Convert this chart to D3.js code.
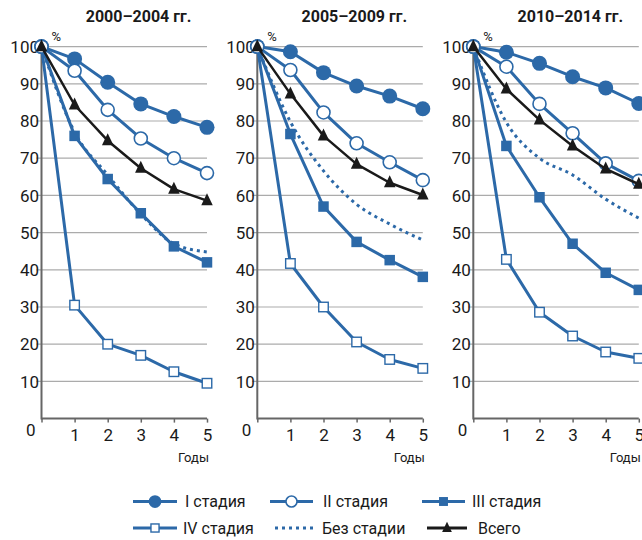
<!DOCTYPE html>
<html>
<head>
<meta charset="utf-8">
<script src="https://cdn.jsdelivr.net/npm/d3@7"></script>
<style>
  html, body { margin: 0; padding: 0; background: #fff; }
  svg { display: block; font-family: Roboto, "Noto Sans", sans-serif; }
</style>
</head>
<body>
<svg id="chart" width="642" height="540"></svg>
<script>
// Survival by stage, three diagnosis periods (years 0..5, %)
const years = [0, 1, 2, 3, 4, 5];
const periods = ["2000–2004 гг.", "2005–2009 гг.", "2010–2014 гг."];
const yTicks = [0, 10, 20, 30, 40, 50, 60, 70, 80, 90, 100];
const xTicks = [1, 2, 3, 4, 5];

const stage1 = [
  [100, 96.7, 90.4, 84.6, 81.2, 78.3],
  [100, 98.6, 93.0, 89.4, 86.7, 83.3],
  [100, 98.5, 95.5, 91.9, 88.9, 84.7]
];
const stage2 = [
  [100, 93.5, 83.0, 75.3, 70.0, 66.0],
  [100, 93.7, 82.3, 74.0, 68.9, 64.1],
  [100, 94.6, 84.6, 76.7, 68.6, 63.9]
];
const stage3 = [
  [100, 76.0, 64.4, 55.2, 46.3, 42.0],
  [100, 76.5, 57.0, 47.5, 42.6, 38.1],
  [100, 73.3, 59.5, 47.0, 39.2, 34.6]
];
const stage4 = [
  [100, 30.5, 20.0, 17.0, 12.6, 9.5],
  [100, 41.7, 30.0, 20.6, 15.9, 13.5],
  [100, 42.8, 28.6, 22.2, 17.9, 16.2]
];
const noStage = [
  [100, 77.0, 65.5, 55.0, 47.0, 44.8],
  [100, 79.8, 66.6, 57.6, 52.3, 48.0],
  [100, 79.6, 70.0, 65.5, 59.0, 53.9]
];
const total = [
  [100, 84.3, 74.7, 67.3, 61.7, 58.6],
  [100, 87.3, 76.0, 68.4, 63.4, 60.1],
  [100, 88.6, 80.3, 73.3, 67.1, 63.0]
];

const seriesNames = ["I стадия", "II стадия", "III стадия", "IV стадия", "Без стадии", "Всего"];

const BLUE = "#2c69a8";
const BLACK = "#1a1a1a";

const svg = d3.select("#chart");

// Series styles; drawing order keeps the black total line on top
const series = [
  { name: seriesNames[3], data: stage4, color: BLUE, width: 3, marker: "sqOpen" },
  { name: seriesNames[2], data: stage3, color: BLUE, width: 3, marker: "sqFill" },
  { name: seriesNames[4], data: noStage, color: BLUE, width: 3, marker: null, dash: "3,4" },
  { name: seriesNames[0], data: stage1, color: BLUE, width: 3, marker: "circFill" },
  { name: seriesNames[1], data: stage2, color: BLUE, width: 3, marker: "circOpen" },
  { name: seriesNames[5], data: total, color: BLACK, width: 2.5, marker: "tri" }
];

function drawMarker(g, type, x, y, color, scale) {
  const s = scale || 1;
  if (type === "circFill") {
    g.append("circle").attr("cx", x).attr("cy", y).attr("r", 7.5 * s).attr("fill", color);
  } else if (type === "circOpen") {
    g.append("circle").attr("cx", x).attr("cy", y).attr("r", 6.5 * s)
      .attr("fill", "#fff").attr("stroke", color).attr("stroke-width", 1.6);
  } else if (type === "sqFill") {
    const a = 10.5 * s;
    g.append("rect").attr("x", x - a / 2).attr("y", y - a / 2).attr("width", a).attr("height", a).attr("fill", color);
  } else if (type === "sqOpen") {
    const a = 9.5 * s;
    g.append("rect").attr("x", x - a / 2).attr("y", y - a / 2).attr("width", a).attr("height", a)
      .attr("fill", "#fff").attr("stroke", color).attr("stroke-width", 1.4);
  } else if (type === "tri") {
    const w = 11.5 * s, h = 12 * s;
    g.append("path").attr("d", `M${x},${y - h * 0.62}L${x + w / 2},${y + h * 0.38}L${x - w / 2},${y + h * 0.38}Z`)
      .attr("fill", color);
  }
}

const panelLeft = [41.5, 257.3, 473.3];
const panelWidth = 165.5;
const y = d3.scaleLinear().domain([0, 100]).range([418.6, 46.6]);

periods.forEach((title, p) => {
  const x = d3.scaleLinear().domain([0, 5]).range([panelLeft[p], panelLeft[p] + panelWidth]);
  const g = svg.append("g");

  // horizontal grid
  g.append("g").selectAll("line").data(yTicks.filter(t => t > 0)).join("line")
    .attr("x1", x(0) - 5).attr("x2", x(5))
    .attr("y1", d => y(d)).attr("y2", d => y(d))
    .attr("stroke", "#ababab").attr("stroke-width", 1.2);

  // y axis line and labels
  g.append("line").attr("x1", x(0)).attr("x2", x(0)).attr("y1", y(100)).attr("y2", y(0) + 0.8)
    .attr("stroke", "#666").attr("stroke-width", 2);
  g.append("g").selectAll("text").data(yTicks.filter(t => t > 0)).join("text")
    .attr("x", x(0) - 2.5).attr("y", d => y(d)).attr("dy", "0.36em")
    .attr("text-anchor", "end").attr("font-size", 17).attr("fill", "#1a1a1a")
    .text(d => d);

  // x axis via d3.axisBottom
  const xAxis = d3.axisBottom(x).tickValues([0].concat(xTicks)).tickSize(4).tickFormat(d => d === 0 ? "" : d);
  const ax = g.append("g").attr("transform", `translate(0,${y(0)})`).call(xAxis);
  ax.select(".domain").attr("stroke", "#666").attr("stroke-width", 2).attr("d", `M${x(0)},0H${x(5)}`);
  ax.selectAll(".tick line").attr("stroke", "#666").attr("stroke-width", 1.5);
  ax.selectAll(".tick text").attr("font-size", 17).attr("font-family", "Roboto, sans-serif")
    .attr("fill", "#1a1a1a").attr("y", 10).attr("dy", "0.71em");

  g.append("text").attr("x", x(0) - 6).attr("y", y(0) + 17).attr("text-anchor", "end")
    .attr("font-size", 17).attr("fill", "#1a1a1a").text("0");
  g.append("text").attr("x", x(5) + 2).attr("y", y(0) + 43).attr("text-anchor", "end")
    .attr("font-size", 13).attr("fill", "#1a1a1a").text("Годы");
  g.append("text").attr("x", x(0) + 10).attr("y", 41).attr("font-size", 13)
    .attr("fill", "#1a1a1a").text("%");
  g.append("text").attr("x", x(0) + 97).attr("y", 22).attr("text-anchor", "middle")
    .attr("font-size", 16).attr("font-weight", "bold").attr("fill", "#1a1a1a").text(title);

  // lines and markers
  series.forEach(s => {
    const vals = s.data[p];
    const line = d3.line().x((d, i) => x(years[i])).y(d => y(d));
    if (s.dash) line.curve(d3.curveMonotoneX);
    g.append("path").attr("d", line(vals)).attr("fill", "none")
      .attr("stroke", s.color).attr("stroke-width", s.width)
      .attr("stroke-linejoin", "round")
      .attr("stroke-dasharray", s.dash || null);
    if (s.marker) {
      const mg = g.append("g");
      vals.forEach((v, i) => drawMarker(mg, s.marker, x(years[i]), y(v), s.color));
    }
  });
});

// legend
const legendItems = [
  { name: seriesNames[0], color: BLUE, marker: "circFill", x1: 133, x2: 177, tx: 185, row: 0 },
  { name: seriesNames[1], color: BLUE, marker: "circOpen", x1: 270, x2: 313, tx: 323, row: 0 },
  { name: seriesNames[2], color: BLUE, marker: "sqFill", x1: 422, x2: 465, tx: 472, row: 0 },
  { name: seriesNames[3], color: BLUE, marker: "sqOpen", x1: 133, x2: 177, tx: 183, row: 1 },
  { name: seriesNames[4], color: BLUE, marker: null, dash: "3,4", x1: 275, x2: 314, tx: 322, row: 1 },
  { name: seriesNames[5], color: BLACK, marker: "tri", x1: 427, x2: 467, tx: 478, row: 1 }
];
const rowY = [501.5, 528];
const lg = svg.append("g");
legendItems.forEach(it => {
  const ly = rowY[it.row];
  lg.append("line").attr("x1", it.x1).attr("x2", it.x2).attr("y1", ly).attr("y2", ly)
    .attr("stroke", it.color).attr("stroke-width", 3).attr("stroke-dasharray", it.dash || null);
  if (it.marker) drawMarker(lg, it.marker, (it.x1 + it.x2) / 2, ly, it.color, 0.85);
  lg.append("text").attr("x", it.tx).attr("y", ly).attr("dy", "0.36em")
    .attr("font-size", 16).attr("fill", "#1a1a1a").text(it.name);
});
</script>
</body>
</html>
